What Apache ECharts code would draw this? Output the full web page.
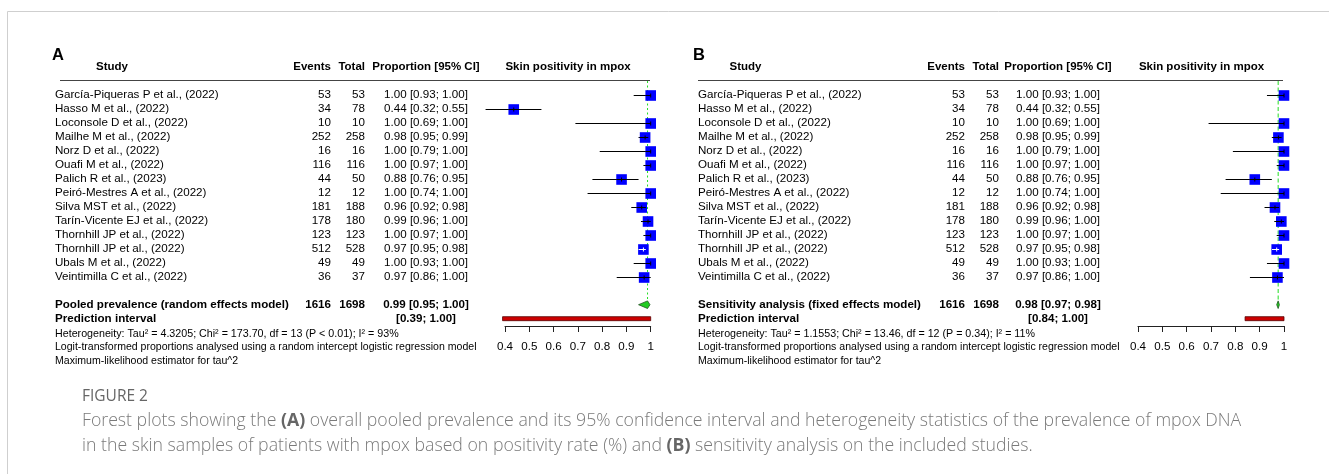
<!DOCTYPE html>
<html><head><meta charset="utf-8">
<script src="https://cdn.jsdelivr.net/npm/echarts@6/dist/echarts.min.js"></script>
<style>html,body{margin:0;padding:0;background:#fff}#c{width:1329px;height:474px}</style>
</head><body><div id="c"></div><script>
// ---------------- data ----------------
const studies = ["García-Piqueras P et al., (2022)", "Hasso M et al., (2022)", "Loconsole D et al., (2022)", "Mailhe M et al., (2022)", "Norz D et al., (2022)", "Ouafi M et al., (2022)", "Palich R et al., (2023)", "Peiró-Mestres A et al., (2022)", "Silva MST et al., (2022)", "Tarín-Vicente EJ et al., (2022)", "Thornhill JP et al., (2022)", "Thornhill JP et al., (2022)", "Ubals M et al., (2022)", "Veintimilla C et al., (2022)"];
const events = [53, 34, 10, 252, 16, 116, 44, 12, 181, 178, 123, 512, 49, 36];
const totals = [53, 78, 10, 258, 16, 116, 50, 12, 188, 180, 123, 528, 49, 37];
const props  = [1.00, 0.436, 1.00, 0.977, 1.00, 1.00, 0.88, 1.00, 0.963, 0.989, 1.00, 0.970, 1.00, 0.973];
const lower  = [0.93, 0.32, 0.69, 0.95, 0.79, 0.97, 0.76, 0.74, 0.92, 0.96, 0.97, 0.95, 0.93, 0.86];
const upper  = [1.00, 0.55, 1.00, 0.99, 1.00, 1.00, 0.95, 1.00, 0.98, 1.00, 1.00, 0.98, 1.00, 1.00];
const plottedInB = [1, 0, 1, 1, 1, 1, 1, 1, 1, 1, 1, 1, 1, 1];
const pooledA = [0.987, 0.95, 0.997];   // estimate, lower, upper
const predA   = [0.39, 1.00];
const pooledB = [0.976, 0.970, 0.981];
const predB   = [0.84, 1.00];
const totalEvents = 1616, totalN = 1698;
const tickLabels = ["0.4", "0.5", "0.6", "0.7", "0.8", "0.9", "1"];
const hetA = "Heterogeneity: Tau² = 4.3205; Chi² = 173.70, df = 13 (P < 0.01); I² = 93%";
const hetB = "Heterogeneity: Tau² = 1.1553; Chi² = 13.46, df = 12 (P = 0.34); I² = 11%";
const noteLogit = "Logit-transformed proportions analysed using a random intercept logistic regression model";
const noteML = "Maximum-likelihood estimator for tau^2";

// ---------------- layout ----------------
const ROW0 = 95, ROWH = 13.98, AXIS_Y = 326;
const GRID_TOP = ROW0 - ROWH;
const Y_MAX = (AXIS_Y - GRID_TOP) / ROWH;
const POOL_ROW = 16, PRED_ROW = 17;
const rowY = r => GRID_TOP + r * ROWH;
const FF = '"Liberation Sans", Arial, Helvetica, sans-serif';
const FS = 11.6;
const SQ = 10.6;

const panels = [
  {letter: 'A', letterX: 52, nameX: 55, studyC: 112, evR: 331, totR: 365, propC: 426, plotC: 568,
   ruleX1: 60, ruleX2: 650, gridLeft: 505, gridW: 145.7, pooled: pooledA, pred: predA,
   poolLabel: 'Pooled prevalence (random effects model)', het: hetA, dash: [2, 2.5]},
  {letter: 'B', letterX: 693, nameX: 698, studyC: 745.5, evR: 965, totR: 999, propC: 1058, plotC: 1201.5,
   ruleX1: 698, ruleX2: 1283, gridLeft: 1138, gridW: 146, pooled: pooledB, pred: predB,
   poolLabel: 'Sensitivity analysis (fixed effects model)', het: hetB, dash: [4, 2.5]}
];

const f2 = v => v.toFixed(2);
const graphics = [];
function txt(x, y, text, o) {
  o = o || {};
  graphics.push({type: 'text', x: x, y: y, silent: true, style: {
    text: text, fill: o.fill || '#000', font: (o.bold ? 'bold ' : '') + (o.size || FS) + 'px ' + (o.ff || FF),
    textAlign: o.align || 'left', textVerticalAlign: 'middle', rich: o.rich }});
}

// frame
graphics.push({type: 'line', silent: true, shape: {x1: 7.5, y1: 11.5, x2: 1329, y2: 11.5}, style: {stroke: '#cfcfcf', lineWidth: 1}});
graphics.push({type: 'line', silent: true, shape: {x1: 7.5, y1: 11.5, x2: 7.5, y2: 474}, style: {stroke: '#cfcfcf', lineWidth: 1}});

const grids = [], xAxes = [], yAxes = [], series = [];
panels.forEach((p, k) => {
  // headers
  txt(p.letterX, 55, p.letter, {bold: true, size: 16.5, align: 'left'});
  txt(p.studyC, 67, 'Study', {bold: true, size: 11.5, align: 'center'});
  txt(p.evR, 67, 'Events', {bold: true, size: 11.5, align: 'right'});
  txt(p.totR, 67, 'Total', {bold: true, size: 11.5, align: 'right'});
  txt(p.propC, 67, 'Proportion [95% CI]', {bold: true, size: 11.5, align: 'center'});
  txt(p.plotC, 67, 'Skin positivity in mpox', {bold: true, size: 11.5, align: 'center'});
  graphics.push({type: 'line', silent: true, shape: {x1: p.ruleX1, y1: 80.5, x2: p.ruleX2, y2: 80.5}, style: {stroke: '#444', lineWidth: 1.2}});
  // study rows
  studies.forEach((s, i) => {
    const y = rowY(i + 1);
    txt(p.nameX, y, s);
    txt(p.evR, y, String(events[i]), {align: 'right'});
    txt(p.totR, y, String(totals[i]), {align: 'right'});
    txt(p.propC, y, f2(props[i]) + ' [' + f2(lower[i]) + '; ' + f2(upper[i]) + ']', {align: 'center'});
  });
  // summary rows
  txt(p.nameX, rowY(POOL_ROW), p.poolLabel, {bold: true});
  txt(p.evR, rowY(POOL_ROW), String(totalEvents), {bold: true, align: 'right'});
  txt(p.totR, rowY(POOL_ROW), String(totalN), {bold: true, align: 'right'});
  txt(p.propC, rowY(POOL_ROW), f2(p.pooled[0]) + ' [' + f2(p.pooled[1]) + '; ' + f2(p.pooled[2]) + ']', {bold: true, align: 'center'});
  txt(p.nameX, rowY(PRED_ROW), 'Prediction interval', {bold: true});
  txt(p.propC, rowY(PRED_ROW), '[' + f2(p.pred[0]) + '; ' + f2(p.pred[1]) + ']', {bold: true, align: 'center'});
  txt(p.nameX, 334, p.het, {size: 10.7});
  txt(p.nameX, 347.5, noteLogit, {size: 10.55});
  txt(p.nameX, 361.5, noteML, {size: 10.55});

  grids.push({left: p.gridLeft, width: p.gridW, top: GRID_TOP, height: AXIS_Y - GRID_TOP, containLabel: false});
  xAxes.push({type: 'value', gridIndex: k, min: 0.4, max: 1, interval: 0.1, position: 'bottom',
    axisLine: {show: true, onZero: false, lineStyle: {color: '#222', width: 1}},
    axisTick: {show: true, length: 6, lineStyle: {color: '#222', width: 1}},
    axisLabel: {show: true, margin: 15, color: '#000', fontSize: FS, fontFamily: FF,
      formatter: (v, idx) => tickLabels[idx]},
    splitLine: {show: false}});
  yAxes.push({type: 'value', gridIndex: k, min: 0, max: Y_MAX, inverse: true, show: false});

  // reference line (behind)
  series.push({type: 'custom', xAxisIndex: k, yAxisIndex: k, clip: false, silent: true, z: 1,
    data: [[p.pooled[0], 0, POOL_ROW]],
    renderItem: (params, api) => {
      const a = api.coord([api.value(0), api.value(1)]);
      const b = api.coord([api.value(0), api.value(2)]);
      return {type: 'line', shape: {x1: a[0], y1: a[1], x2: b[0], y2: b[1]},
        style: {stroke: '#22dd22', lineWidth: 1, lineDash: p.dash}};
    }});
  // study marks
  const data = [];
  studies.forEach((s, i) => {
    if (k === 1 && !plottedInB[i]) return;
    data.push([props[i], lower[i], upper[i], i + 1]);
  });
  series.push({type: 'custom', xAxisIndex: k, yAxisIndex: k, clip: false, silent: true, z: 3, data: data,
    renderItem: (params, api) => {
      const est = api.value(0), lo = api.value(1), hi = api.value(2), row = api.value(3);
      const c = api.coord([est, row]);
      const pl = api.coord([lo, row]), ph = api.coord([hi, row]);
      const h = SQ / 2;
      const inside = pl[0] >= c[0] - h && ph[0] <= c[0] + h;
      const col = inside ? '#ffffff' : '#000000';
      const y = Math.round(c[1]) + 0.5;
      return {type: 'group', children: [
        {type: 'line', shape: {x1: pl[0], y1: y, x2: ph[0], y2: y}, style: {stroke: '#000', lineWidth: 1}},
        {type: 'rect', shape: {x: c[0] - h, y: y - h, width: SQ, height: SQ}, style: {fill: '#0000ff'}},
        {type: 'line', shape: {x1: Math.max(pl[0], c[0] - h), y1: y, x2: Math.min(ph[0], c[0] + h), y2: y}, style: {stroke: col, lineWidth: 1}},
        {type: 'line', shape: {x1: c[0], y1: y - 2, x2: c[0], y2: y + 2}, style: {stroke: col, lineWidth: 1}}
      ]};
    }});
  // pooled diamond and prediction bar
  series.push({type: 'custom', xAxisIndex: k, yAxisIndex: k, clip: false, silent: true, z: 4,
    data: [[p.pooled[0], p.pooled[1], p.pooled[2], POOL_ROW, p.pred[0], p.pred[1], PRED_ROW]],
    renderItem: (params, api) => {
      const c = api.coord([api.value(0), api.value(3)]);
      const l = api.coord([api.value(1), api.value(3)]);
      const r = api.coord([api.value(2), api.value(3)]);
      const a = api.coord([api.value(4), api.value(6)]);
      const b = api.coord([api.value(5), api.value(6)]);
      const dh = 3.8;
      return {type: 'group', children: [
        {type: 'polygon', shape: {points: [[l[0], c[1]], [c[0], c[1] - dh], [r[0], c[1]], [c[0], c[1] + dh]]},
          style: {fill: '#22cc22', stroke: '#225522', lineWidth: 0.8}},
        {type: 'rect', shape: {x: a[0], y: a[1] - 2, width: b[0] - a[0], height: 4},
          style: {fill: '#cc0000', stroke: '#550000', lineWidth: 0.8}}
      ]};
    }});
});

// caption
txt(82, 397, 'FIGURE 2', {size: 15.5, fill: '#666', ff: '"Open Sans", sans-serif'});
const CAP = 17.7;
const capRich = {b: {fontWeight: 'bold', fill: '#666', fontSize: CAP, fontFamily: '"Open Sans", sans-serif'}};
graphics.push({type: 'text', x: 82, y: 421, silent: true, style: {
  text: 'Forest plots showing the {b|(A)} overall pooled prevalence and its 95% confidence interval and heterogeneity statistics of the prevalence of mpox DNA',
  fill: '#7a7a7a', font: '300 ' + CAP + 'px "Open Sans", sans-serif', textVerticalAlign: 'middle', rich: capRich}});
graphics.push({type: 'text', x: 82, y: 446, silent: true, style: {
  text: 'in the skin samples of patients with mpox based on positivity rate (%) and {b|(B)} sensitivity analysis on the included studies.',
  fill: '#7a7a7a', font: '300 ' + CAP + 'px "Open Sans", sans-serif', textVerticalAlign: 'middle', rich: capRich}});

const chart = echarts.init(document.getElementById('c'), null, {renderer: 'canvas'});
chart.setOption({animation: false, backgroundColor: '#fff', grid: grids, xAxis: xAxes, yAxis: yAxes, series: series, graphic: graphics});
</script></body></html>
